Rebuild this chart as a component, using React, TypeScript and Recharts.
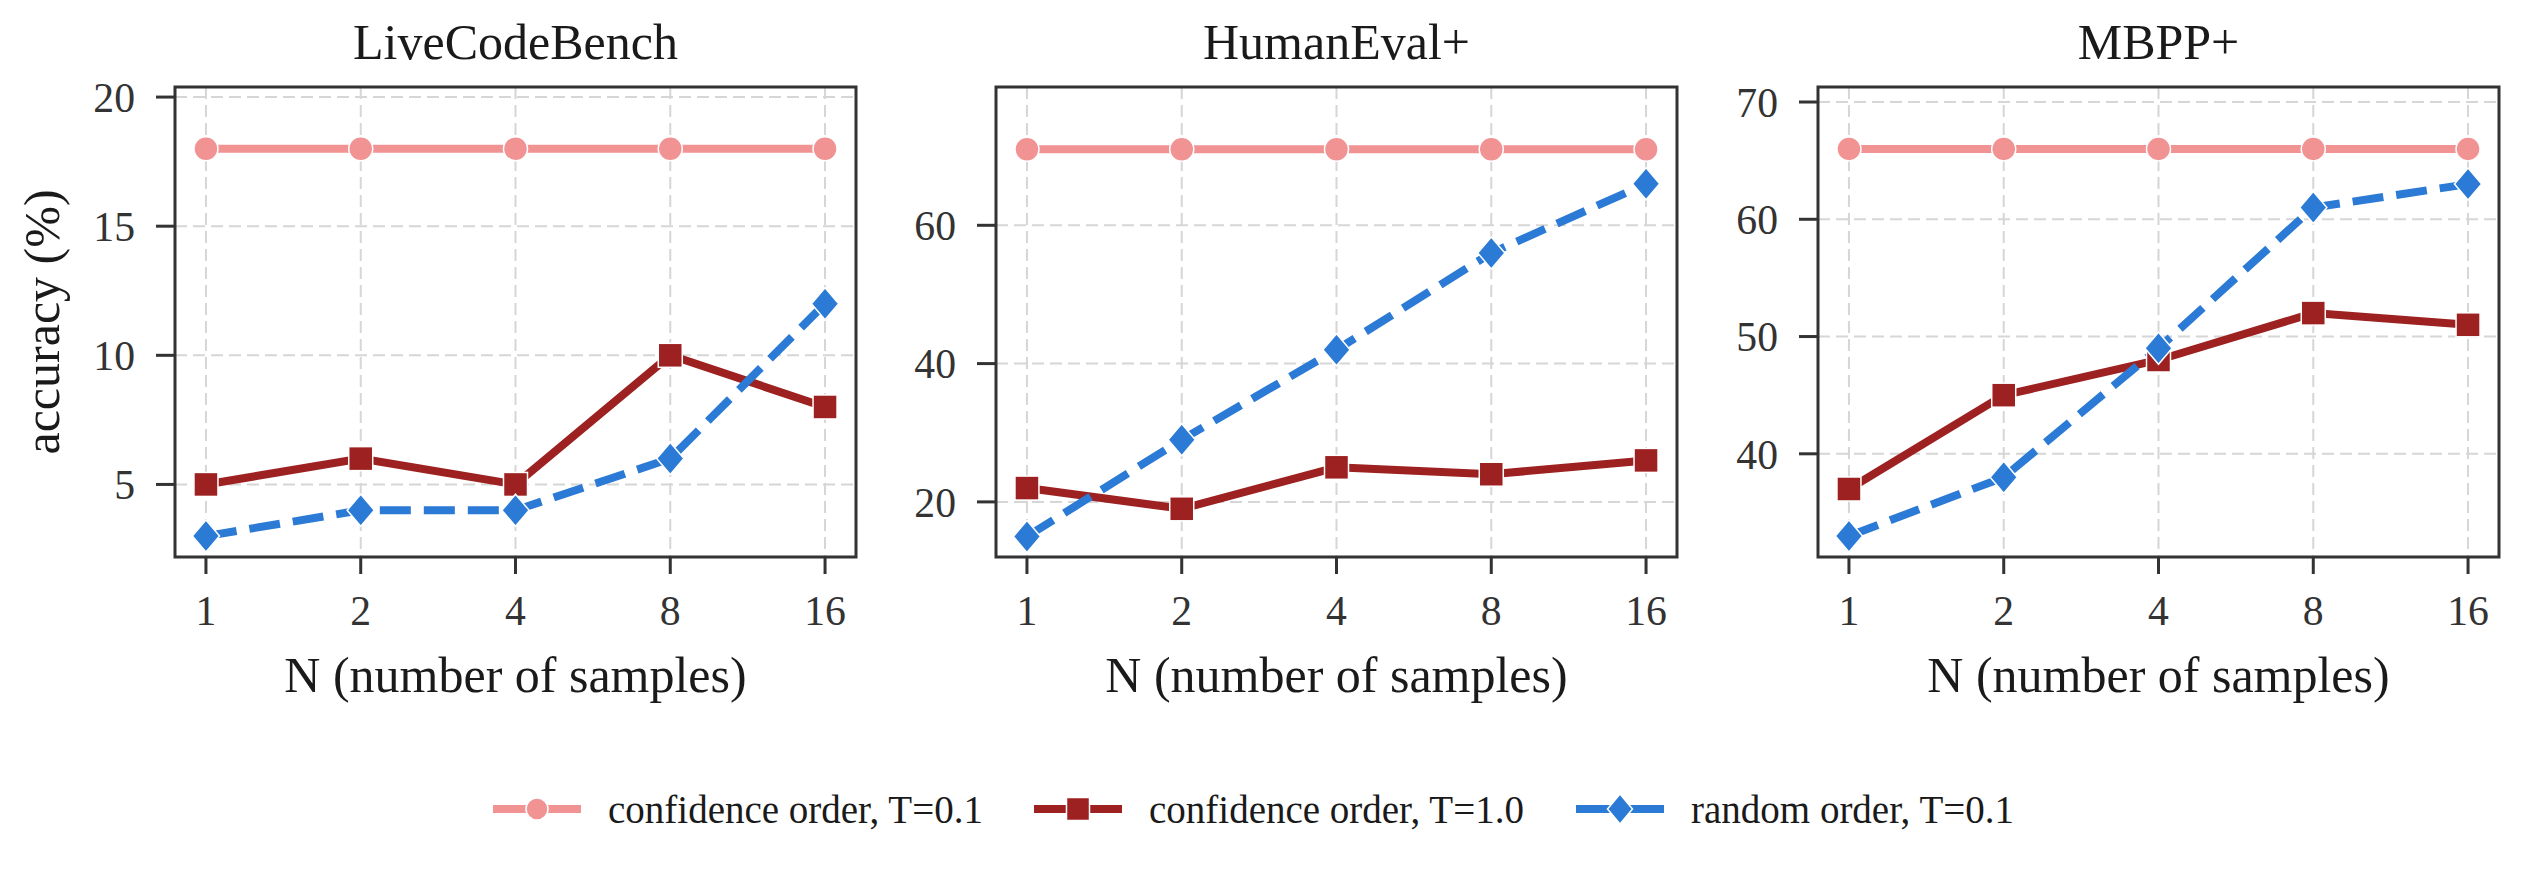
import React from "react";
import { LineChart, Line, XAxis, YAxis, CartesianGrid, ReferenceArea } from "recharts";

const nLabels = ["1", "2", "4", "8", "16"];

const lcbConf01 = [18, 18, 18, 18, 18];
const lcbConf10 = [5, 6, 5, 10, 8];
const lcbRandom = [3, 4, 4, 6, 12];

const heConf01 = [71, 71, 71, 71, 71];
const heConf10 = [22, 19, 25, 24, 26];
const heRandom = [15, 29, 42, 56, 66];

const mbppConf01 = [66, 66, 66, 66, 66];
const mbppConf10 = [37, 45, 48, 52, 51];
const mbppRandom = [33, 38, 49, 61, 63];

const seriesNames = ["confidence order, T=0.1", "confidence order, T=1.0", "random order, T=0.1"];

const PINK = "#F19393";
const RED = "#9E2121";
const BLUE = "#2B7AD6";
const FONT = "'Liberation Serif', 'Times New Roman', serif";

const PLOT_W = 681;
const PLOT_TOP = 87;
const PLOT_BOTTOM = 557;
const Y_AXIS_W = 175;

const buildRows = (a: number[], b: number[], c: number[]) =>
  nLabels.map((_, i) => ({ x: i, conf01: a[i], conf10: b[i], rand: c[i] }));

const panels = [
  { title: "LiveCodeBench", left: 175, domain: [2.19, 20.39], ticks: [5, 10, 15, 20], rows: buildRows(lcbConf01, lcbConf10, lcbRandom) },
  { title: "HumanEval+", left: 996, domain: [12.03, 80.0], ticks: [20, 40, 60], rows: buildRows(heConf01, heConf10, heRandom) },
  { title: "MBPP+", left: 1818, domain: [31.2, 71.28], ticks: [40, 50, 60, 70], rows: buildRows(mbppConf01, mbppConf10, mbppRandom) },
];

const SQ = 12;
const DR = 16;

const SquareDot = (props: any) => {
  const { cx, cy, index } = props;
  if (cx == null || cy == null) return <g key={index} />;
  return <rect key={index} x={cx - SQ} y={cy - SQ} width={SQ * 2} height={SQ * 2} fill={RED} stroke="#fff" strokeWidth={1.5} />;
};

const DiamondDot = (props: any) => {
  const { cx, cy, index } = props;
  if (cx == null || cy == null) return <g key={index} />;
  return (
    <polygon
      key={index}
      points={`${cx},${cy - DR} ${cx + DR * 0.85},${cy} ${cx},${cy + DR} ${cx - DR * 0.85},${cy}`}
      fill={BLUE}
      stroke="#fff"
      strokeWidth={1.5}
    />
  );
};

function Panel({ p }: { p: (typeof panels)[number] }) {
  const chartW = Y_AXIS_W + PLOT_W + 10;
  return (
    <div style={{ position: "absolute", left: p.left - Y_AXIS_W, top: 0 }}>
      <LineChart width={chartW} height={720} data={p.rows} margin={{ top: PLOT_TOP, right: 10, bottom: 0, left: 0 }}>
        <CartesianGrid stroke="#d6d6d6" strokeWidth={2} strokeDasharray="12 6" />
        <XAxis
          type="number"
          dataKey="x"
          domain={[-0.2, 4.2]}
          ticks={[0, 1, 2, 3, 4]}
          tickFormatter={(v: number) => nLabels[v]}
          height={720 - PLOT_BOTTOM}
          axisLine={false}
          tickLine={{ stroke: "#333", strokeWidth: 3 }}
          tickSize={17}
          tickMargin={21}
          tick={{ fill: "#333", fontSize: 41.7, fontFamily: FONT }}
          label={{ value: "N (number of samples)", position: "insideBottom", offset: 28, fill: "#1a1a1a", fontSize: 50, fontFamily: FONT }}
          allowDataOverflow
        />
        <YAxis
          type="number"
          domain={p.domain}
          ticks={p.ticks}
          width={Y_AXIS_W}
          axisLine={false}
          tickLine={{ stroke: "#333", strokeWidth: 3 }}
          tickSize={19}
          tickMargin={21}
          tick={{ fill: "#333", fontSize: 41.7, fontFamily: FONT }}
          allowDataOverflow
        />
        <ReferenceArea x1={-0.2} x2={4.2} y1={p.domain[0]} y2={p.domain[1]} fill="none" stroke="#333" strokeWidth={3} ifOverflow="visible" />
        <Line
          dataKey="conf01"
          stroke={PINK}
          strokeWidth={8}
          dot={{ r: 12, fill: PINK, stroke: "#fff", strokeWidth: 1.5 }}
          isAnimationActive={false}
        />
        <Line dataKey="conf10" stroke={RED} strokeWidth={8} dot={SquareDot} isAnimationActive={false} />
        <Line dataKey="rand" stroke={BLUE} strokeWidth={8} strokeDasharray="31 13" dot={DiamondDot} isAnimationActive={false} />
      </LineChart>
    </div>
  );
}

function Overlay() {
  const legendItems = [
    { name: seriesNames[0], color: PINK, start: 493, shape: "circle" },
    { name: seriesNames[1], color: RED, start: 1034, shape: "square" },
    { name: seriesNames[2], color: BLUE, start: 1576, shape: "diamond" },
  ];
  const ly = 809;
  return (
    <svg width={2522} height={871} style={{ position: "absolute", left: 0, top: 0, pointerEvents: "none" }}>
      {panels.map((p) => (
        <text key={p.title} x={p.left + PLOT_W / 2} y={59} textAnchor="middle" fontFamily={FONT} fontSize={50} fill="#1a1a1a">
          {p.title}
        </text>
      ))}
      <text x={59} y={322} transform="rotate(-90 59 322)" textAnchor="middle" fontFamily={FONT} fontSize={50} fill="#1a1a1a">
        accuracy (%)
      </text>
      {legendItems.map((it) => {
        const cx = it.start + 44;
        return (
          <g key={it.name}>
            <line x1={it.start} x2={it.start + 88} y1={ly} y2={ly} stroke={it.color} strokeWidth={8} />
            {it.shape === "circle" && <circle cx={cx} cy={ly} r={11} fill={it.color} stroke="#fff" strokeWidth={1.5} />}
            {it.shape === "square" && <rect x={cx - 11.5} y={ly - 11.5} width={23} height={23} fill={it.color} stroke="#fff" strokeWidth={1.5} />}
            {it.shape === "diamond" && (
              <polygon points={`${cx},${ly - 15} ${cx + 12.5},${ly} ${cx},${ly + 15} ${cx - 12.5},${ly}`} fill={it.color} stroke="#fff" strokeWidth={1.5} />
            )}
            <text x={it.start + 115} y={823} fontFamily={FONT} fontSize={39} fill="#1a1a1a">
              {it.name}
            </text>
          </g>
        );
      })}
    </svg>
  );
}

export default function App() {
  return (
    <div style={{ position: "absolute", left: 0, top: 0, width: 2522, height: 871, background: "#fff", overflow: "hidden" }}>
      {panels.map((p) => (
        <Panel key={p.title} p={p} />
      ))}
      <Overlay />
    </div>
  );
}
